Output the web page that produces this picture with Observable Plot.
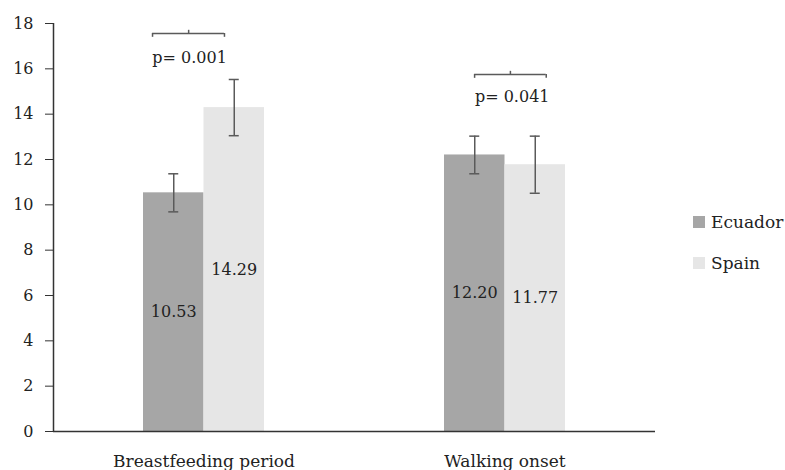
<!DOCTYPE html>
<html><head><meta charset="utf-8">
<script src="https://cdn.jsdelivr.net/npm/d3@7"></script>
<script src="https://cdn.jsdelivr.net/npm/@observablehq/plot@0.6"></script>
<style>
body{margin:0;background:#fff;}
#wrap{position:relative;width:785px;height:470px;font-family:"DejaVu Serif",serif;overflow:hidden;}
.leg{position:absolute;left:693px;height:20px;display:flex;align-items:center;font-size:17px;color:#222;white-space:nowrap;}
.sw{width:12px;height:12px;margin-right:6px;flex:none;}
</style></head><body><div id="wrap"></div>
<script>
// ---- data ----
const categories = ["Breastfeeding period", "Walking onset"];
const series = ["Ecuador", "Spain"];
const ecuadorMeans = [10.53, 12.20];
const spainMeans = [14.29, 11.77];
const ecuadorErr = [0.84, 0.83];
const spainErr = [1.24, 1.26];
const yTicks = [0, 2, 4, 6, 8, 10, 12, 14, 16, 18];
const pLabels = ["p= 0.001", "p= 0.041"];
// significance brackets (in data units: y values, x offsets from group centre in group widths)
const bracketY = [17.56, 15.75];
const bracketFrom = [-0.171, -0.101];
const bracketTo = [0.068, 0.137];
const bracketMid = [-0.051, 0.018];
const pLabelY = [16.49, 14.78];
const pLabelX = [-0.048, 0.024];

// ---- build table ----
const BW = 0.201; // bar width as fraction of group width
const means = [ecuadorMeans, spainMeans];
const errs = [ecuadorErr, spainErr];
const rows = categories.flatMap((c, i) => series.map((s, j) => {
  const x1 = i + 0.5 + (j - 1) * BW;
  return {category: c, series: s, value: means[j][i], err: errs[j][i], x1, x2: x1 + BW, mid: x1 + BW / 2};
}));
const caps = rows.flatMap(d => [{mid: d.mid, y: d.value - d.err}, {mid: d.mid, y: d.value + d.err}]);
const brackets = categories.map((c, i) => ({
  x1: i + 0.5 + bracketFrom[i], x2: i + 0.5 + bracketTo[i], xm: i + 0.5 + bracketMid[i],
  y: bracketY[i], label: pLabels[i], lx: i + 0.5 + pLabelX[i], ly: pLabelY[i]
}));
const bracketEnds = brackets.flatMap(b => [{x: b.x1, y: b.y}, {x: b.x2, y: b.y}]);

const GREY = "#5a5a5a";
const chart = Plot.plot({
  width: 785, height: 470,
  marginLeft: 53, marginRight: 130, marginTop: 23, marginBottom: 39,
  x: {domain: [0, 2], axis: null},
  y: {domain: [0, 18], axis: null},
  color: {domain: series, range: ["#a6a6a6", "#e6e6e6"]},
  style: {fontFamily: "DejaVu Serif", fontSize: "16px", color: "#222", background: "#fff"},
  marks: [
    Plot.rect(rows, {x1: "x1", x2: "x2", y1: 0, y2: "value", fill: "series"}),
    Plot.ruleX(rows, {x: "mid", y1: d => d.value - d.err, y2: d => d.value + d.err, stroke: GREY, strokeWidth: 1.5}),
    Plot.ruleY(caps, {x1: "mid", x2: "mid", y: "y", insetLeft: -5, insetRight: -5, stroke: GREY, strokeWidth: 1.5}),
    Plot.text(rows, {x: "mid", y: d => d.value / 2, text: d => d.value.toFixed(2), fill: "#222", fontSize: 16}),
    Plot.ruleX([0], {stroke: "#333", strokeWidth: 1.5}),
    Plot.ruleY([0], {stroke: "#333", strokeWidth: 1.5}),
    Plot.axisY({ticks: yTicks, tickSize: 8, tickPadding: 12, stroke: "#333", fill: "#222", label: null, tickFormat: d => String(d)}),
    Plot.axisX({ticks: categories.map((_, i) => i + 0.5), tickFormat: d => categories[Math.round(d - 0.5)], tickSize: 0, tickPadding: 23, label: null, fill: "#222", fontSize: 17}),
    // significance brackets
    Plot.ruleY(brackets, {x1: "x1", x2: "x2", y: "y", stroke: GREY, strokeWidth: 1.5}),
    Plot.ruleX(bracketEnds, {x: "x", y1: d => d.y - 0.17, y2: "y", stroke: GREY, strokeWidth: 1.5}),
    Plot.ruleX(brackets, {x: "xm", y1: "y", y2: d => d.y + 0.14, stroke: GREY, strokeWidth: 1.5}),
    Plot.text(brackets, {x: "lx", y: "ly", text: "label", fill: "#222", fontSize: 16})
  ]
});
const wrap = document.getElementById("wrap");
wrap.appendChild(chart);
// legend
const legTops = [212, 253];
series.forEach((s, j) => {
  const el = document.createElement("div");
  el.className = "leg";
  el.style.top = legTops[j] + "px";
  const sw = document.createElement("span");
  sw.className = "sw";
  sw.style.background = ["#a6a6a6", "#e6e6e6"][j];
  el.appendChild(sw);
  el.appendChild(document.createTextNode(s));
  wrap.appendChild(el);
});
</script></body></html>
